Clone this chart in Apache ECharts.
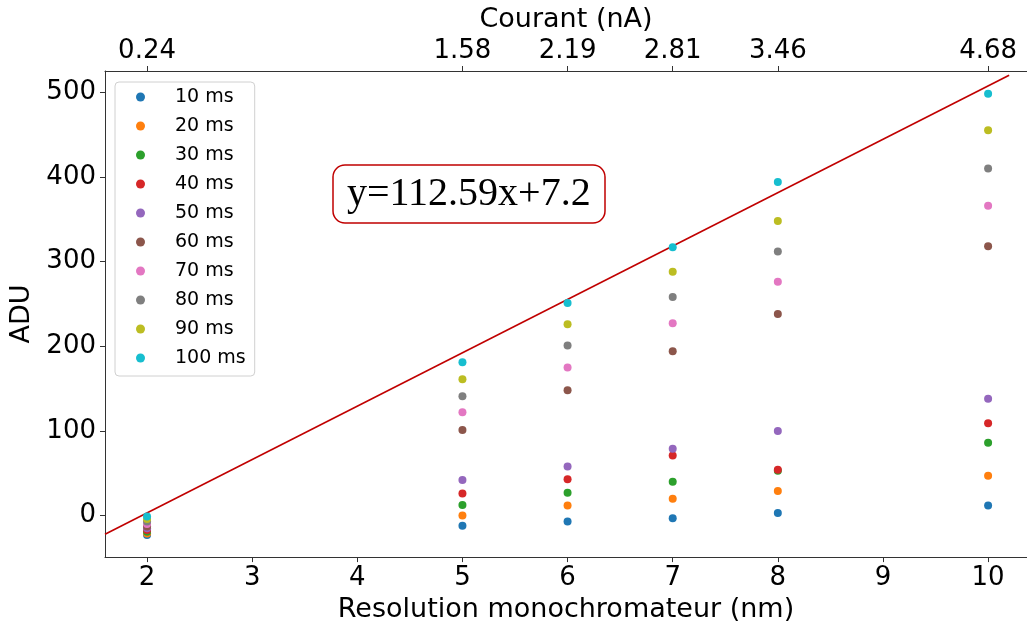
<!DOCTYPE html>
<html>
<head>
<meta charset="utf-8">
<script src="https://cdn.jsdelivr.net/npm/echarts@6/dist/echarts.min.js"></script>
<style>html,body{margin:0;padding:0;background:#fff}#c{width:1027px;height:628px}</style>
</head>
<body>
<div id="c"></div>
<script>
// Data
const resolutions = [2, 5, 6, 7, 8, 10];
const currentTickPositions = [2, 5, 6, 7, 8, 10];
const currentTickLabels = ['0.24', '1.58', '2.19', '2.81', '3.46', '4.68'];
const resolutionTicks = [2, 3, 4, 5, 6, 7, 8, 9, 10];
const aduTicks = [0, 100, 200, 300, 400, 500];
const seriesNames = ['10 ms', '20 ms', '30 ms', '40 ms', '50 ms', '60 ms', '70 ms', '80 ms', '90 ms', '100 ms'];
const ms10  = [-23, -12, -7, -3, 3, 12];
const ms20  = [-21, 0, 12, 20, 29, 47];
const ms30  = [-19, 12.5, 27, 40, 53, 86];
const ms40  = [-17, 26, 43, 71, 54, 109];
const ms50  = [-15, 42, 58, 79, 100, 138];
const ms60  = [-13, 101, 148, 194, 238, 318];
const ms70  = [-10, 122, 175, 227, 276, 366];
const ms80  = [-7, 141, 201, 258, 312, 410];
const ms90  = [-4, 161, 226, 288, 348, 455];
const ms100 = [-1, 181, 251, 317, 394, 498];
const fitLineX = [1.6, 10.2];
const fitLineY = [-22, 520];
const fitLabel = 'y=112.59x+7.2';

const allValues = [ms10, ms20, ms30, ms40, ms50, ms60, ms70, ms80, ms90, ms100];
const colors = ['#1f77b4', '#ff7f0e', '#2ca02c', '#d62728', '#9467bd', '#8c564b', '#e377c2', '#7f7f7f', '#bcbd22', '#17becf'];
const font = 'DejaVu Sans';

const scatterSeries = seriesNames.map((name, i) => ({
  name: name,
  type: 'scatter',
  symbol: 'circle',
  symbolSize: 8,
  itemStyle: { color: colors[i], opacity: 1 },
  data: resolutions.map((x, j) => [x, allValues[i][j]]),
  z: 3
}));

const option = {
  animation: false,
  backgroundColor: '#fff',
  title: {
    text: fitLabel,
    left: 333,
    top: 165,
    padding: [9, 15, 9, 14],
    borderColor: '#c00000',
    borderWidth: 1.5,
    borderRadius: 12,
    backgroundColor: '#fff',
    textStyle: { fontFamily: 'Liberation Serif', fontSize: 40, fontWeight: 'normal', color: '#000' }
  },
  legend: {
    orient: 'vertical',
    left: 115,
    top: 82,
    data: seriesNames,
    icon: 'circle',
    itemWidth: 9,
    itemHeight: 9,
    itemGap: 9,
    padding: [5, 9, 8, 21],
    borderColor: '#d0d0d0',
    borderWidth: 1,
    borderRadius: 4,
    backgroundColor: 'rgba(255,255,255,0.8)',
    textStyle: { fontFamily: font, fontSize: 19, color: '#000', lineHeight: 20, padding: [0, 0, 0, 25] }
  },
  grid: { left: 105, right: 0, top: 71, bottom: 67, containLabel: false },
  xAxis: [
    {
      type: 'value', position: 'bottom', min: 1.6, max: 10.37,
      name: 'Resolution monochromateur (nm)', nameLocation: 'middle', nameGap: 32,
      nameTextStyle: { fontFamily: font, fontSize: 27, color: '#000' },
      axisLine: { show: true, onZero: false, lineStyle: { color: '#333', width: 1 } },
      axisTick: { show: true, length: 5, customValues: resolutionTicks, lineStyle: { color: '#333' } },
      axisLabel: { customValues: resolutionTicks, fontFamily: font, fontSize: 26, color: '#000', margin: 8, showMinLabel: true, showMaxLabel: true },
      splitLine: { show: false }
    },
    {
      type: 'value', position: 'top', min: 1.6, max: 10.37,
      name: 'Courant (nA)', nameLocation: 'middle', nameGap: 37,
      nameTextStyle: { fontFamily: font, fontSize: 27, color: '#000' },
      axisLine: { show: true, onZero: false, lineStyle: { color: '#333', width: 1 } },
      axisTick: { show: true, length: 5, customValues: currentTickPositions, lineStyle: { color: '#333' } },
      axisLabel: {
        customValues: currentTickPositions, fontFamily: font, fontSize: 26, color: '#000', margin: 7,
        formatter: function (v) { const k = currentTickPositions.indexOf(v); return k >= 0 ? currentTickLabels[k] : ''; }
      },
      splitLine: { show: false }
    }
  ],
  yAxis: {
    type: 'value', min: -49, max: 525,
    name: 'ADU', nameLocation: 'middle', nameGap: 66,
    nameTextStyle: { fontFamily: font, fontSize: 27, color: '#000' },
    axisLine: { show: true, onZero: false, lineStyle: { color: '#333', width: 1 } },
    axisTick: { show: true, length: 5, customValues: aduTicks, lineStyle: { color: '#333' } },
    axisLabel: { customValues: aduTicks, fontFamily: font, fontSize: 26, color: '#000', margin: 9 },
    splitLine: { show: false }
  },
  series: [
    {
      name: 'fit', type: 'line', xAxisIndex: 0, showSymbol: false, symbol: 'none',
      lineStyle: { color: '#c00000', width: 1.6 },
      data: fitLineX.map((x, i) => [x, fitLineY[i]]),
      z: 2, silent: true
    }
  ].concat(scatterSeries)
};

const chart = echarts.init(document.getElementById('c'), null, { renderer: 'canvas' });
chart.setOption(option);
</script>
</body>
</html>
